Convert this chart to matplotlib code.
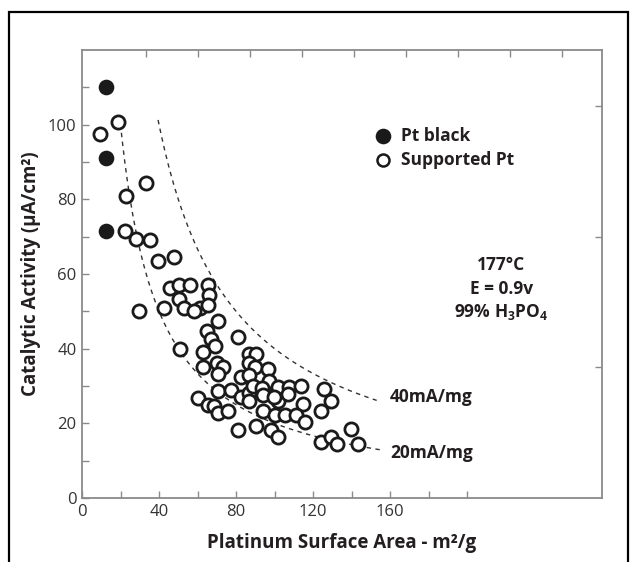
import matplotlib
matplotlib.use("Agg")
import matplotlib.pyplot as plt
import numpy as np
from matplotlib.patches import Rectangle

# ---- data ----
pt_black_x = [12.4, 12.4, 12.4]
pt_black_y = [110.1, 91.0, 71.6]

supported_x = [18.7, 9.2, 33.4, 22.9, 22.3, 28.1, 35.5, 39.3, 47.9, 45.6,
               50.4, 56.1, 65.3, 66.1, 50.4, 42.6, 52.9, 61.5, 65.3, 58.0,
               29.6, 70.6, 51.0, 65.1, 66.8, 68.9, 81.0, 63.0, 63.0, 69.9,
               73.1, 70.6, 86.5, 90.3, 86.9, 89.7, 96.4, 82.5, 86.9, 97.0,
               70.8, 77.5, 82.7, 86.9, 89.0, 93.4, 93.8, 86.9, 100.2, 101.8,
               101.8, 107.3, 106.9, 113.8, 114.6, 125.4, 129.1, 124.3, 60.1, 65.3,
               68.7, 70.8, 75.6, 93.8, 100.2, 105.6, 111.3, 115.7, 81.0, 90.3,
               98.1, 101.8, 124.3, 129.1, 132.3, 139.8, 143.4, 99.5]
supported_y = [100.8, 97.6, 84.4, 80.8, 71.6, 69.4, 69.1, 63.4, 64.5, 56.2,
               57.1, 57.1, 57.1, 54.3, 53.2, 51.0, 51.0, 51.0, 51.6, 50.0,
               50.0, 47.5, 39.9, 44.6, 42.7, 40.7, 43.0, 39.2, 35.1, 36.2,
               35.1, 33.2, 38.7, 38.7, 36.2, 35.1, 34.6, 32.5, 33.0, 31.3,
               28.6, 28.8, 27.1, 28.1, 30.0, 29.5, 27.6, 26.1, 27.6, 29.6,
               26.1, 29.8, 27.8, 29.9, 25.2, 29.3, 26.1, 23.3, 26.9, 25.0,
               24.6, 22.9, 23.2, 23.2, 22.2, 22.2, 22.2, 20.4, 18.2, 19.2,
               18.2, 16.3, 15.1, 16.3, 14.4, 18.6, 14.4, 27.1]

# iso mass-activity lines (mA/mg) and their drawn x-extent (m2/g)
mass_activities = [40, 20]
curve_ranges = [(39.5, 153), (19.5, 155)]
curve_labels = ["40mA/mg", "20mA/mg"]
curve_label_pos = [(160, 27.0), (160, 12.0)]

x_ticks_major = [0, 20, 40, 60, 80, 100, 120, 140, 160, 180, 200]
x_tick_labels = ["0", "", "40", "", "80", "", "120", "", "160", "", ""]
y_ticks_major = list(range(0, 111, 10))
y_tick_labels = ["0", "", "20", "", "40", "", "60", "", "80", "", "100", ""]
top_ticks = [33.3, 60.2, 87.2, 114.2, 141.2, 168.2, 195.2, 222.2, 249.1]
right_ticks = [35, 70, 105]

FONT = "Open Sans"
TXT = "#231f20"
SPINE = "#8a8a8a"
W = "bold"

fig = plt.figure(figsize=(6.33, 5.62), dpi=100)
ax = fig.add_axes([82/633, 1-498/562, (602-82)/633, (498-50)/562])

ax.set_xlim(0, 270)
ax.set_ylim(0, 120)

# curves
for m, (x0, x1) in zip(mass_activities, curve_ranges):
    xs = np.linspace(x0, x1, 200)
    ax.plot(xs, 100.0 * m / xs, linestyle=(0, (3.2, 3.2)), color="#333333", lw=1.0, zorder=2)
for lab, (lx, ly) in zip(curve_labels, curve_label_pos):
    ax.text(lx, ly, lab, fontsize=12.5, fontfamily=FONT, fontweight=W,
            color=TXT, va="center", ha="left")

ax.scatter(supported_x, supported_y, s=90, facecolors="white", edgecolors="#1a1a1a",
           linewidths=2.0, zorder=3)
ax.scatter(pt_black_x, pt_black_y, s=95, facecolors="#1a1a1a", edgecolors="#1a1a1a",
           linewidths=1.5, zorder=3)

# legend drawn as markers + text
ax.scatter([156.3], [97.0], s=95, facecolors="#1a1a1a", edgecolors="#1a1a1a", linewidths=1.5, zorder=3, clip_on=False)
ax.scatter([156.3], [90.5], s=75, facecolors="white", edgecolors="#1a1a1a", linewidths=1.8, zorder=3, clip_on=False)
ax.text(165.5, 97.0, "Pt black", fontsize=12.5, fontfamily=FONT, fontweight=W, color=TXT, va="center", ha="left")
ax.text(165.5, 90.5, "Supported Pt", fontsize=12.5, fontfamily=FONT, fontweight=W, color=TXT, va="center", ha="left")

# conditions
ax.text(217.7, 62.4, "177°C", fontsize=12.5, fontfamily=FONT, fontweight="bold", color=TXT, ha="center", va="center")
ax.text(217.7, 56.1, "E = 0.9v", fontsize=12.5, fontfamily=FONT, fontweight="bold", color=TXT, ha="center", va="center")
ax.text(217.7, 49.9, r"99% H$_\mathregular{3}$PO$_\mathregular{4}$", fontsize=12.5, fontfamily=FONT,
        fontweight="bold", color=TXT, ha="center", va="center")

# ticks
ax.set_xticks(x_ticks_major)
ax.set_xticklabels(x_tick_labels)
ax.set_yticks(y_ticks_major)
ax.set_yticklabels(y_tick_labels)
ax.tick_params(axis="both", direction="in", length=5, width=1.0, color=SPINE,
               labelsize=12, labelcolor="#333333", pad=4)
for lab in ax.get_xticklabels() + ax.get_yticklabels():
    lab.set_fontfamily(FONT)

secx = ax.secondary_xaxis("top")
secx.set_xticks(top_ticks)
secx.set_xticklabels([])
secx.tick_params(direction="in", length=5, width=1.0, color=SPINE)
secx.spines["top"].set_visible(False)
secy = ax.secondary_yaxis("right")
secy.set_yticks(right_ticks)
secy.set_yticklabels([])
secy.tick_params(direction="in", length=5, width=1.0, color=SPINE)
secy.spines["right"].set_visible(False)

for sp in ax.spines.values():
    sp.set_color(SPINE)
    sp.set_linewidth(1.3)

ax.set_xlabel("Platinum Surface Area - m²/g", fontsize=13.5, fontfamily=FONT,
              fontweight=W, color=TXT, labelpad=10)
ax.set_ylabel("Catalytic Activity (µA/cm²)", fontsize=13.5, fontfamily=FONT,
              fontweight=W, color=TXT, labelpad=5)

# outer frame
fig.patches.append(Rectangle((9/633, -0.05), (628-9)/633, 1.05 - 12/562, transform=fig.transFigure,
                             fill=False, edgecolor="black", lw=1.6))

fig.savefig("out.png", dpi=100)
